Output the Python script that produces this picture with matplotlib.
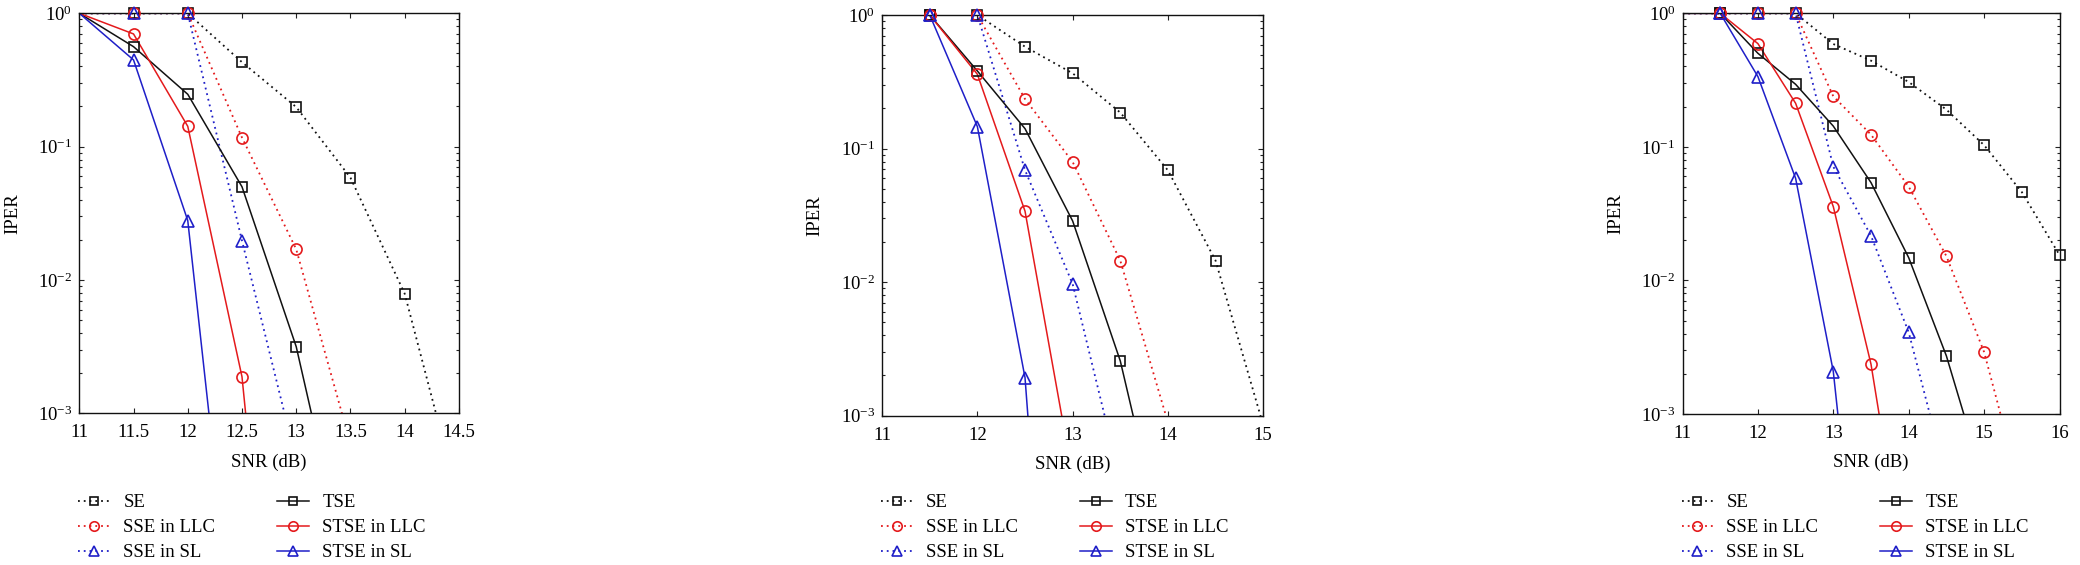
import numpy as np
import matplotlib
matplotlib.use("Agg")
import matplotlib.pyplot as plt
from matplotlib.lines import Line2D
from matplotlib.ticker import FixedLocator, LogLocator, NullFormatter, FuncFormatter

plt.rcParams['font.family'] = ['Liberation Serif', 'DejaVu Serif']
plt.rcParams['mathtext.fontset'] = 'stix'

# ---------------- data ----------------
labels = ["SE", "SSE in LLC", "SSE in SL", "TSE", "STSE in LLC", "STSE in SL"]

# Panel 1
p1_x_SE = [11, 11.5, 12, 12.5, 13, 13.5, 14, 14.5]
p1_y_SE = [1, 1, 1, 0.43, 0.198, 0.0585, 0.0079, 2.2e-4]
p1_x_SSE_LLC = [11, 11.5, 12, 12.5, 13, 13.5]
p1_y_SSE_LLC = [1, 1, 1, 0.117, 0.017, 5.9e-4]
p1_x_SSE_SL = [11, 11.5, 12, 12.5, 13]
p1_y_SSE_SL = [1, 1, 1, 0.0197, 4.4e-4]
p1_x_TSE = [11, 11.5, 12, 12.5, 13, 13.5]
p1_y_TSE = [1, 0.562, 0.247, 0.050, 0.00316, 5.2e-5]
p1_x_STSE_LLC = [11, 11.5, 12, 12.5, 13]
p1_y_STSE_LLC = [1, 0.70, 0.142, 0.00188, 1.6e-7]
p1_x_STSE_SL = [11, 11.5, 12, 12.5]
p1_y_STSE_SL = [1, 0.447, 0.0279, 5.5e-6]

# Panel 2
p2_x_SE = [11, 11.5, 12, 12.5, 13, 13.5, 14, 14.5, 15]
p2_y_SE = [1, 1, 1, 0.579, 0.366, 0.186, 0.0687, 0.0145, 8.5e-4]
p2_x_SSE_LLC = [11, 11.5, 12, 12.5, 13, 13.5, 14]
p2_y_SSE_LLC = [1, 1, 1, 0.235, 0.0794, 0.0145, 8.9e-4]
p2_x_SSE_SL = [11, 11.5, 12, 12.5, 13, 13.5]
p2_y_SSE_SL = [1, 1, 1, 0.069, 0.00968, 3.3e-4]
p2_x_TSE = [11, 11.5, 12, 12.5, 13, 13.5, 14]
p2_y_TSE = [1, 1, 0.381, 0.141, 0.0287, 0.00257, 7.8e-5]
p2_x_STSE_LLC = [11, 11.5, 12, 12.5, 13]
p2_y_STSE_LLC = [1, 1, 0.36, 0.034, 3.5e-4]
p2_x_STSE_SL = [11, 11.5, 12, 12.5, 13]
p2_y_STSE_SL = [1, 1, 0.146, 0.00193, 3.4e-8]

# Panel 3
p3_x_SE = [11, 11.5, 12, 12.5, 13, 13.5, 14, 14.5, 15, 15.5, 16]
p3_y_SE = [1, 1, 1, 1, 0.589, 0.442, 0.306, 0.19, 0.103, 0.0459, 0.0155]
p3_x_SSE_LLC = [11, 11.5, 12, 12.5, 13, 13.5, 14, 14.5, 15, 15.5]
p3_y_SSE_LLC = [1, 1, 1, 1, 0.239, 0.1235, 0.0504, 0.0152, 0.00291, 2.5e-4]
p3_x_SSE_SL = [11, 11.5, 12, 12.5, 13, 13.5, 14, 14.5]
p3_y_SSE_SL = [1, 1, 1, 1, 0.0711, 0.0216, 0.00409, 3.3e-4]
p3_x_TSE = [11, 11.5, 12, 12.5, 13, 13.5, 14, 14.5, 15]
p3_y_TSE = [1, 1, 0.502, 0.294, 0.143, 0.054, 0.0148, 0.00272, 3.1e-4]
p3_x_STSE_LLC = [11, 11.5, 12, 12.5, 13, 13.5, 14]
p3_y_STSE_LLC = [1, 1, 0.593, 0.212, 0.0357, 0.00236, 4.3e-5]
p3_x_STSE_SL = [11, 11.5, 12, 12.5, 13, 13.5]
p3_y_STSE_SL = [1, 1, 0.336, 0.0582, 0.00208, 4.8e-6]

p1_xticks = [11, 11.5, 12, 12.5, 13, 13.5, 14, 14.5]
p2_xticks = [11, 12, 13, 14, 15]
p3_xticks = [11, 12, 13, 14, 15, 16]

panels = [
    dict(xlim=(11, 14.5), xticks=p1_xticks,
         series=[(p1_x_SE, p1_y_SE), (p1_x_SSE_LLC, p1_y_SSE_LLC), (p1_x_SSE_SL, p1_y_SSE_SL),
                 (p1_x_TSE, p1_y_TSE), (p1_x_STSE_LLC, p1_y_STSE_LLC), (p1_x_STSE_SL, p1_y_STSE_SL)]),
    dict(xlim=(11, 15), xticks=p2_xticks,
         series=[(p2_x_SE, p2_y_SE), (p2_x_SSE_LLC, p2_y_SSE_LLC), (p2_x_SSE_SL, p2_y_SSE_SL),
                 (p2_x_TSE, p2_y_TSE), (p2_x_STSE_LLC, p2_y_STSE_LLC), (p2_x_STSE_SL, p2_y_STSE_SL)]),
    dict(xlim=(11, 16), xticks=p3_xticks,
         series=[(p3_x_SE, p3_y_SE), (p3_x_SSE_LLC, p3_y_SSE_LLC), (p3_x_SSE_SL, p3_y_SSE_SL),
                 (p3_x_TSE, p3_y_TSE), (p3_x_STSE_LLC, p3_y_STSE_LLC), (p3_x_STSE_SL, p3_y_STSE_SL)]),
]

# ---------------- styles ----------------
BLACK, RED, BLUE = "#111111", "#e41a1c", "#1f1fc8"
DOT = (0, (1.0, 2.2))
styles = [
    dict(color=BLACK, ls=DOT, marker="s", ms=6.5),
    dict(color=RED, ls=DOT, marker="o", ms=8),
    dict(color=BLUE, ls=DOT, marker="^", ms=8),
    dict(color=BLACK, ls="-", marker="s", ms=6.5),
    dict(color=RED, ls="-", marker="o", ms=8),
    dict(color=BLUE, ls="-", marker="^", ms=8),
]

W, H = 2080, 565
fig = plt.figure(figsize=(W / 100, H / 100), dpi=100)

# axes boxes in pixels: left, right, top, bottom
boxes = [(79.3, 458.9, 13.3, 413.3), (882.1, 1263.2, 15.0, 415.7), (1682.5, 2059.5, 13.3, 414.0)]
FS = 13.5

for pnl, (l, r, t, b) in zip(panels, boxes):
    ax = fig.add_axes([l / W, 1 - b / H, (r - l) / W, (b - t) / H])
    ax.set_yscale("log")
    xmin, xmax = pnl["xlim"]
    for (xs, ys), st in zip(pnl["series"], styles):
        xs = np.asarray(xs, float)
        ys = np.asarray(ys, float)
        lw = 1.3 if st["ls"] is DOT else 1.1
        ax.plot(xs, ys, color=st["color"], ls=st["ls"], lw=lw, zorder=2)
        m = (xs > xmin) & (xs <= xmax) & (ys >= 1e-3) & (ys <= 1)
        ax.plot(xs[m], ys[m], ls="none", marker=st["marker"], ms=st["ms"],
                mfc="none", mec=st["color"], mew=1.2, clip_on=False, zorder=3)
    ax.set_xlim(xmin, xmax)
    ax.set_ylim(1e-3, 1)
    ax.xaxis.set_major_locator(FixedLocator(pnl["xticks"]))
    ax.xaxis.set_major_formatter(FuncFormatter(lambda v, p: "%g" % v))
    ax.yaxis.set_major_locator(LogLocator(base=10, numticks=10))
    ax.yaxis.set_minor_locator(LogLocator(base=10, subs=np.arange(2, 10), numticks=20))
    ax.yaxis.set_minor_formatter(NullFormatter())
    ax.tick_params(which="both", direction="in", top=True, right=True, width=0.8, color="#222222")
    ax.tick_params(which="major", length=3.5)
    ax.tick_params(which="minor", length=2)
    ax.tick_params(axis="x", which="major", labelsize=FS, pad=8)
    ax.tick_params(axis="y", which="major", labelsize=FS, pad=5)
    for sp in ax.spines.values():
        sp.set_linewidth(1.0)
        sp.set_color("#111111")
    ax.set_xlabel("SNR (dB)", fontsize=FS)
    ax.xaxis.set_label_coords(0.5, -0.1)
    ax.set_ylabel("IPER", fontsize=FS)
    ax.yaxis.set_label_coords(-0.154, 0.5)

    handles = [Line2D([], [], color=st["color"], ls=st["ls"], lw=(1.3 if st["ls"] is DOT else 1.1),
                      marker=st["marker"], ms=st["ms"] * 0.85, mfc="none", mec=st["color"], mew=1.2)
               for st in styles]
    fig.legend(handles, labels, loc="upper left", bbox_to_anchor=((l - 1) / W, 1 - 494 / H),
               ncol=2, frameon=False, fontsize=FS, handlelength=1.7, handletextpad=0.7,
               columnspacing=3.3, labelspacing=0.42, borderpad=0, borderaxespad=0, numpoints=1)

fig.savefig("out.png", dpi=100, facecolor="white")
